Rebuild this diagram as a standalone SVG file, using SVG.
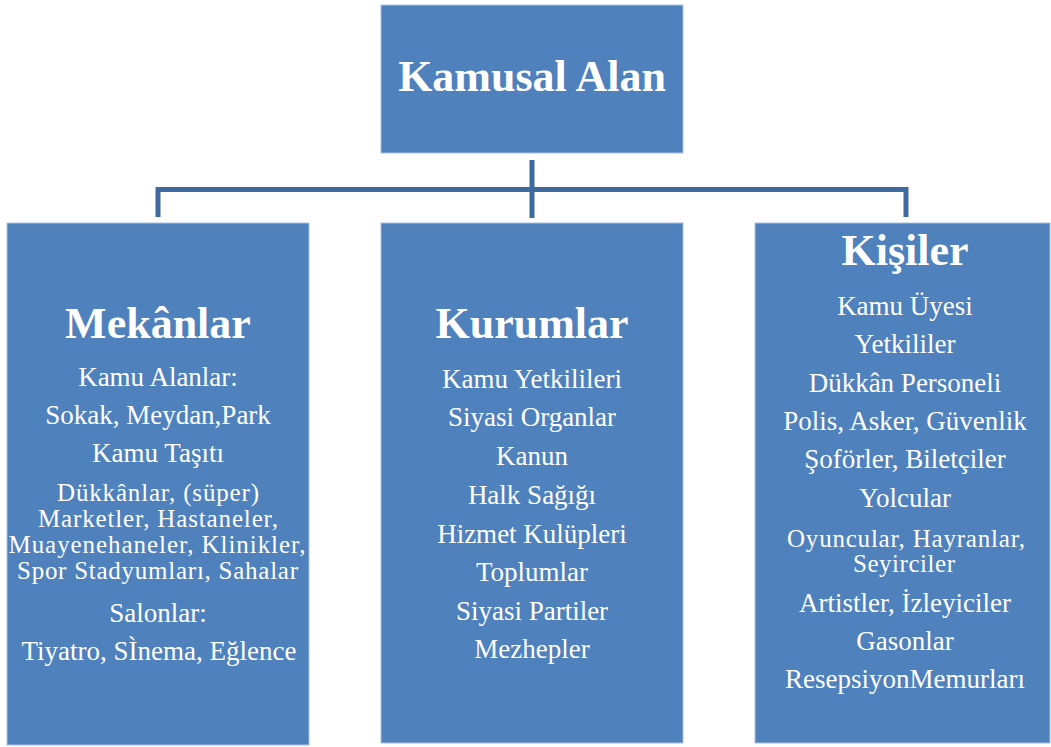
<svg xmlns="http://www.w3.org/2000/svg" width="1051" height="747" viewBox="0 0 1051 747">
<style>
.box{fill:#4F81BD;stroke:#A9C1E0;stroke-width:1}
.t{font-family:'Liberation Serif','Times New Roman',serif;fill:#FFFFFF;text-anchor:middle}
.h{font-weight:bold;font-size:44px}
.b{font-size:27px}
.w{font-size:25px}
.c{fill:none;stroke:#3F6A9F;stroke-width:5}
</style>
<rect width="1051" height="747" fill="#FFFFFF"/>
<g id="connectors">
<path class="c" d="M532 160V218"/>
<path class="c" d="M158 217V189.5H906V217"/>
</g>
<g id="kamusal-alan">
<rect class="box" x="381" y="5" width="302" height="148"/>
<text class="t h" x="532" y="91" font-size="43">Kamusal Alan</text>
</g>
<g id="mekanlar">
<rect class="box" x="7" y="223" width="302" height="522"/>
<text class="t h" x="158" y="338">Mekânlar</text>
<text class="t b" x="158" y="386">Kamu Alanlar:</text>
<text class="t b" x="158" y="424">Sokak, Meydan,Park</text>
<text class="t b" x="158" y="462">Kamu Taşıtı</text>
<text class="t w" x="158" y="501" textLength="202">Dükkânlar, (süper)</text>
<text class="t w" x="158" y="527" textLength="240">Marketler, Hastaneler,</text>
<text class="t w" x="157" y="553" textLength="297">Muayenehaneler, Klinikler,</text>
<text class="t w" x="157.5" y="579" textLength="281">Spor Stadyumları, Sahalar</text>
<text class="t b" x="158" y="622">Salonlar:</text>
<text class="t b" x="159" y="660">Tiyatro, SÌnema, Eğlence</text>
</g>
<g id="kurumlar">
<rect class="box" x="381" y="223" width="302" height="520"/>
<text class="t h" x="532" y="338">Kurumlar</text>
<text class="t b" x="532" y="388">Kamu Yetkilileri</text>
<text class="t b" x="532" y="426">Siyasi Organlar</text>
<text class="t b" x="532" y="465">Kanun</text>
<text class="t b" x="532" y="504">Halk Sağığı</text>
<text class="t b" x="532" y="543">Hizmet Kulüpleri</text>
<text class="t b" x="532" y="581">Toplumlar</text>
<text class="t b" x="532" y="620">Siyasi Partiler</text>
<text class="t b" x="532" y="658">Mezhepler</text>
</g>
<g id="kisiler">
<rect class="box" x="755" y="223" width="295" height="520"/>
<text class="t h" x="905" y="265">Kişiler</text>
<text class="t b" x="905" y="315">Kamu Üyesi</text>
<text class="t b" x="905" y="353">Yetkililer</text>
<text class="t b" x="905" y="392">Dükkân Personeli</text>
<text class="t b" x="905" y="430">Polis, Asker, Güvenlik</text>
<text class="t b" x="905" y="468">Şoförler, Biletçiler</text>
<text class="t b" x="905" y="507">Yolcular</text>
<text class="t w" x="906" y="547" textLength="238">Oyuncular, Hayranlar,</text>
<text class="t w" x="904" y="572" textLength="102">Seyirciler</text>
<text class="t b" x="905" y="612">Artistler, İzleyiciler</text>
<text class="t b" x="905" y="650">Gasonlar</text>
<text class="t b" x="905" y="688">ResepsiyonMemurları</text>
</g>
</svg>
